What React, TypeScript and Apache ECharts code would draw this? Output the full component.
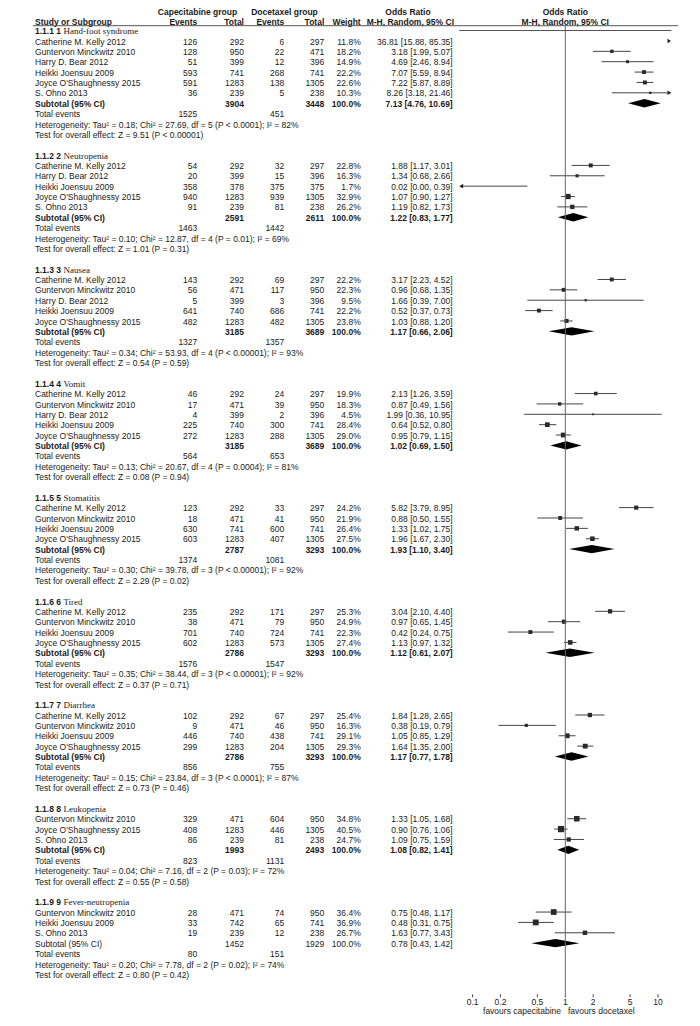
import React, { useEffect, useRef } from "react";
import * as echarts from "echarts";

// ---------- DATA ----------
const groupNames = [
  "Hand-foot syndrome",
  "Neutropenia",
  "Nausea",
  "Vomit",
  "Stomatitis",
  "Tired",
  "Diarrhea",
  "Leukopenia",
  "Fever-neutropenia",
];

const studyNames = [
  ["Catherine M. Kelly 2012", "Guntervon Minckwitz 2010", "Harry D. Bear 2012", "Heikki Joensuu 2009", "Joyce O'Shaughnessy 2015", "S. Ohno 2013"],
  ["Catherine M. Kelly 2012", "Harry D. Bear 2012", "Heikki Joensuu 2009", "Joyce O'Shaughnessy 2015", "S. Ohno 2013"],
  ["Catherine M. Kelly 2012", "Guntervon Minckwitz 2010", "Harry D. Bear 2012", "Heikki Joensuu 2009", "Joyce O'Shaughnessy 2015"],
  ["Catherine M. Kelly 2012", "Guntervon Minckwitz 2010", "Harry D. Bear 2012", "Heikki Joensuu 2009", "Joyce O'Shaughnessy 2015"],
  ["Catherine M. Kelly 2012", "Guntervon Minckwitz 2010", "Heikki Joensuu 2009", "Joyce O'Shaughnessy 2015"],
  ["Catherine M. Kelly 2012", "Guntervon Minckwitz 2010", "Heikki Joensuu 2009", "Joyce O'Shaughnessy 2015"],
  ["Catherine M. Kelly 2012", "Guntervon Minckwitz 2010", "Heikki Joensuu 2009", "Joyce O'Shaughnessy 2015"],
  ["Guntervon Minckwitz 2010", "Joyce O'Shaughnessy 2015", "S. Ohno 2013"],
  ["Guntervon Minckwitz 2010", "Heikki Joensuu 2009", "S. Ohno 2013"],
];

const capEvents = [
  [126, 128, 51, 593, 591, 36],
  [54, 20, 358, 940, 91],
  [143, 56, 5, 641, 482],
  [46, 17, 4, 225, 272],
  [123, 18, 630, 603],
  [235, 38, 701, 602],
  [102, 9, 446, 299],
  [329, 408, 86],
  [28, 33, 19],
];
const capTotals = [
  [292, 950, 399, 741, 1283, 239],
  [292, 399, 378, 1283, 239],
  [292, 471, 399, 740, 1283],
  [292, 471, 399, 740, 1283],
  [292, 471, 741, 1283],
  [292, 471, 740, 1283],
  [292, 471, 740, 1283],
  [471, 1283, 239],
  [471, 742, 239],
];
const docEvents = [
  [6, 22, 12, 268, 138, 5],
  [32, 15, 375, 939, 81],
  [69, 117, 3, 686, 482],
  [24, 39, 2, 300, 288],
  [33, 41, 600, 407],
  [171, 79, 724, 573],
  [67, 46, 438, 204],
  [604, 446, 81],
  [74, 65, 12],
];
const docTotals = [
  [297, 471, 396, 741, 1305, 238],
  [297, 396, 375, 1305, 238],
  [297, 950, 396, 741, 1305],
  [297, 950, 396, 741, 1305],
  [297, 950, 741, 1305],
  [297, 950, 741, 1305],
  [297, 950, 741, 1305],
  [950, 1305, 238],
  [950, 741, 238],
];
const weights = [
  [11.8, 18.2, 14.9, 22.2, 22.6, 10.3],
  [22.8, 16.3, 1.7, 32.9, 26.2],
  [22.2, 22.3, 9.5, 22.2, 23.8],
  [19.9, 18.3, 4.5, 28.4, 29.0],
  [24.2, 21.9, 26.4, 27.5],
  [25.3, 24.9, 22.3, 27.4],
  [25.4, 16.3, 29.1, 29.3],
  [34.8, 40.5, 24.7],
  [36.4, 36.9, 26.7],
];
const oddsRatios = [
  [36.81, 3.18, 4.69, 7.07, 7.22, 8.26],
  [1.88, 1.34, 0.02, 1.07, 1.19],
  [3.17, 0.96, 1.66, 0.52, 1.03],
  [2.13, 0.87, 1.99, 0.64, 0.95],
  [5.82, 0.88, 1.33, 1.96],
  [3.04, 0.97, 0.42, 1.13],
  [1.84, 0.38, 1.05, 1.64],
  [1.33, 0.9, 1.09],
  [0.75, 0.48, 1.63],
];
const ciLower = [
  [15.88, 1.99, 2.46, 5.59, 5.87, 3.18],
  [1.17, 0.68, 0.0, 0.9, 0.82],
  [2.23, 0.68, 0.39, 0.37, 0.88],
  [1.26, 0.49, 0.36, 0.52, 0.79],
  [3.79, 0.5, 1.02, 1.67],
  [2.1, 0.65, 0.24, 0.97],
  [1.28, 0.19, 0.85, 1.35],
  [1.05, 0.76, 0.75],
  [0.48, 0.31, 0.77],
];
const ciUpper = [
  [85.35, 5.07, 8.94, 8.94, 8.89, 21.46],
  [3.01, 2.66, 0.39, 1.27, 1.73],
  [4.52, 1.35, 7.0, 0.73, 1.2],
  [3.59, 1.56, 10.95, 0.8, 1.15],
  [8.95, 1.55, 1.75, 2.3],
  [4.4, 1.45, 0.75, 1.32],
  [2.65, 0.79, 1.29, 2.0],
  [1.68, 1.06, 1.59],
  [1.17, 0.75, 3.43],
];

const subCapTotal = [3904, 2591, 3185, 3185, 2787, 2786, 2786, 1993, 1452];
const subDocTotal = [3448, 2611, 3689, 3689, 3293, 3293, 3293, 2493, 1929];
const subOR = [7.13, 1.22, 1.17, 1.02, 1.93, 1.12, 1.17, 1.08, 0.78];
const subLower = [4.76, 0.83, 0.66, 0.69, 1.1, 0.61, 0.77, 0.82, 0.43];
const subUpper = [10.69, 1.77, 2.06, 1.5, 3.4, 2.07, 1.78, 1.41, 1.42];
const totalEventsCap = [1525, 1463, 1327, 564, 1374, 1576, 856, 823, 80];
const totalEventsDoc = [451, 1442, 1357, 653, 1081, 1547, 755, 1131, 151];
const heterogeneity = [
  "Tau² = 0.18; Chi² = 27.69, df = 5 (P < 0.0001); I² = 82%",
  "Tau² = 0.10; Chi² = 12.87, df = 4 (P = 0.01); I² = 69%",
  "Tau² = 0.34; Chi² = 53.93, df = 4 (P < 0.00001); I² = 93%",
  "Tau² = 0.13; Chi² = 20.67, df = 4 (P = 0.0004); I² = 81%",
  "Tau² = 0.30; Chi² = 39.78, df = 3 (P < 0.00001); I² = 92%",
  "Tau² = 0.35; Chi² = 38.44, df = 3 (P < 0.00001); I² = 92%",
  "Tau² = 0.15; Chi² = 23.84, df = 3 (P < 0.0001); I² = 87%",
  "Tau² = 0.04; Chi² = 7.16, df = 2 (P = 0.03); I² = 72%",
  "Tau² = 0.20; Chi² = 7.78, df = 2 (P = 0.02); I² = 74%",
];
const overallEffect = [
  "Z = 9.51 (P < 0.00001)",
  "Z = 1.01 (P = 0.31)",
  "Z = 0.54 (P = 0.59)",
  "Z = 0.08 (P = 0.94)",
  "Z = 2.29 (P = 0.02)",
  "Z = 0.37 (P = 0.71)",
  "Z = 0.73 (P = 0.46)",
  "Z = 0.55 (P = 0.58)",
  "Z = 0.80 (P = 0.42)",
];
const tickValues = [0.1, 0.2, 0.5, 1, 2, 5, 10];

// ---------- LAYOUT ----------
const ROW0 = 30.6;
const ROWH = 10.37;
const HEADER_LINE_Y = 25.7;
const AXIS_Y = 994.3;
const PLOT_L = 459.6;
const PLOT_R = 671.0;
const LOGMIN = -1.14;
const LOGMAX = 1.14;
const YMIN = -(ROW0 - HEADER_LINE_Y) / ROWH;
const YMAX = YMIN + (AXIS_Y - HEADER_LINE_Y) / ROWH;

const SANS = "'Liberation Sans', Arial, Helvetica, sans-serif";
const SERIF = "'Liberation Serif', 'Times New Roman', serif";
const TXT = "#1a1a1a";
const FS = 8.5;

const X_NAME = 35;
const X_CAPE = 197.3;
const X_CAPT = 244;
const X_DOCE = 284.3;
const X_DOCT = 324.3;
const X_W = 360.7;
const X_OR = 452.7;

const rowY = (i: number) => ROW0 + i * ROWH + 0.6;

function t(x: number, y: number, text: string, align = "left", bold = false, family = SANS, size = FS) {
  return {
    type: "text",
    x,
    y,
    silent: true,
    style: {
      text,
      fill: TXT,
      fontSize: size,
      fontFamily: family,
      fontWeight: bold ? "bold" : "normal",
      align,
      verticalAlign: "middle",
    },
  };
}

const lg = (v: number) => (v > 0 ? Math.log10(v) : -9);
const f2 = (v: number) => v.toFixed(2);

export default function App() {
  const ref = useRef<HTMLDivElement>(null);

  useEffect(() => {
    document.body.style.margin = "0";
    if (!ref.current) return;
    const chart = echarts.init(ref.current, undefined, { renderer: "svg" });

    const graphics: any[] = [];
    const studyData: any[] = [];
    const diamondData: any[] = [];

    // header
    graphics.push(t(197.5, 12.3, "Capecitabine group", "center", true));
    graphics.push(t(284.5, 12.3, "Docetaxel group", "center", true));
    graphics.push(t(408, 12.3, "Odds Ratio", "center", true));
    graphics.push(t(565.3, 12.3, "Odds Ratio", "center", true));
    graphics.push(t(X_NAME, 22, "Study or Subgroup", "left", true));
    graphics.push(t(X_CAPE, 22, "Events", "right", true));
    graphics.push(t(X_CAPT, 22, "Total", "right", true));
    graphics.push(t(X_DOCE, 22, "Events", "right", true));
    graphics.push(t(X_DOCT, 22, "Total", "right", true));
    graphics.push(t(X_W, 22, "Weight", "right", true));
    graphics.push(t(454, 22, "M-H, Random, 95% CI", "right", true));
    graphics.push(t(565.3, 22, "M-H, Random, 95% CI", "center", true));
    graphics.push({
      type: "line",
      silent: true,
      shape: { x1: 33, y1: HEADER_LINE_Y, x2: 678, y2: HEADER_LINE_Y },
      style: { stroke: "#555", lineWidth: 1 },
    });

    let r = 0;
    groupNames.forEach((name, g) => {
      const hy = rowY(r);
      graphics.push(t(X_NAME, hy, `1.1.${g + 1} ${g + 1}`, "left", true));
      graphics.push(t(63.4, hy, name, "left", false, SERIF, 9));
      r += 1;
      studyNames[g].forEach((sn, k) => {
        const y = rowY(r);
        graphics.push(t(X_NAME, y, sn));
        graphics.push(t(X_CAPE, y, String(capEvents[g][k]), "right"));
        graphics.push(t(X_CAPT, y, String(capTotals[g][k]), "right"));
        graphics.push(t(X_DOCE, y, String(docEvents[g][k]), "right"));
        graphics.push(t(X_DOCT, y, String(docTotals[g][k]), "right"));
        graphics.push(t(X_W, y, `${weights[g][k].toFixed(1)}%`, "right"));
        graphics.push(
          t(X_OR, y, `${f2(oddsRatios[g][k])} [${f2(ciLower[g][k])}, ${f2(ciUpper[g][k])}]`, "right")
        );
        studyData.push([lg(oddsRatios[g][k]), r, lg(ciLower[g][k]), lg(ciUpper[g][k]), weights[g][k]]);
        r += 1;
      });
      const bold = g < 8;
      let y = rowY(r);
      graphics.push(t(X_NAME, y, "Subtotal (95% CI)", "left", bold));
      graphics.push(t(X_CAPT, y, String(subCapTotal[g]), "right", bold));
      graphics.push(t(X_DOCT, y, String(subDocTotal[g]), "right", bold));
      graphics.push(t(X_W, y, "100.0%", "right", bold));
      graphics.push(t(X_OR, y, `${f2(subOR[g])} [${f2(subLower[g])}, ${f2(subUpper[g])}]`, "right", bold));
      diamondData.push([lg(subOR[g]), r, lg(subLower[g]), lg(subUpper[g])]);
      r += 1;
      y = rowY(r);
      graphics.push(t(X_NAME, y, "Total events"));
      graphics.push(t(X_CAPE, y, String(totalEventsCap[g]), "right"));
      graphics.push(t(X_DOCE, y, String(totalEventsDoc[g]), "right"));
      r += 1;
      graphics.push(t(X_NAME, rowY(r), `Heterogeneity: ${heterogeneity[g]}`));
      r += 1;
      graphics.push(t(X_NAME, rowY(r), `Test for overall effect: ${overallEffect[g]}`));
      r += 2;
    });

    graphics.push(t(561, 1011, "favours capecitabine", "right"));
    graphics.push(t(568, 1011, "favours docetaxel", "left"));

    const tickLogs = tickValues.map((v) => Math.log10(v));

    const option: any = {
      animation: false,
      grid: {
        left: PLOT_L,
        width: PLOT_R - PLOT_L,
        top: HEADER_LINE_Y,
        height: AXIS_Y - HEADER_LINE_Y,
        containLabel: false,
      },
      xAxis: {
        type: "value",
        min: LOGMIN,
        max: LOGMAX,
        position: "bottom",
        axisLine: { show: true, lineStyle: { color: "#555", width: 1 } },
        axisTick: { show: false },
        axisLabel: {
          show: true,
          customValues: tickLogs,
          margin: 3,
          fontSize: FS,
          fontFamily: SANS,
          color: TXT,
          formatter: (v: number) => String(Math.round(Math.pow(10, v) * 10) / 10),
        },
        splitLine: { show: false },
      },
      yAxis: {
        type: "value",
        inverse: true,
        min: YMIN,
        max: YMAX,
        show: false,
      },
      graphic: graphics,
      series: [
        {
          type: "line",
          silent: true,
          symbol: "none",
          data: [
            [0, YMIN],
            [0, YMAX],
          ],
          lineStyle: { color: "#666", width: 1 },
        },
        {
          type: "custom",
          silent: true,
          data: studyData,
          encode: { x: 0, y: 1 },
          renderItem: (params: any, api: any) => {
            const orv = api.value(0);
            const row = api.value(1);
            const lo = api.value(2);
            const hi = api.value(3);
            const w = api.value(4);
            const y = api.coord([0, row])[1];
            const children: any[] = [];
            const clo = Math.max(lo, LOGMIN);
            const chi = Math.min(hi, LOGMAX);
            if (clo < chi) {
              const x1 = api.coord([clo, row])[0];
              const x2 = api.coord([chi, row])[0];
              children.push({
                type: "line",
                shape: { x1, y1: y, x2, y2: y },
                style: { stroke: "#444", lineWidth: 1 },
              });
            }
            if (hi > LOGMAX) {
              const xr = api.coord([LOGMAX, row])[0];
              children.push({
                type: "polygon",
                shape: { points: [[xr, y], [xr - 3.5, y - 2.3], [xr - 3.5, y + 2.3]] },
                style: { fill: "#222" },
              });
            }
            if (lo < LOGMIN) {
              const xl = api.coord([LOGMIN, row])[0];
              children.push({
                type: "polygon",
                shape: { points: [[xl, y], [xl + 3.5, y - 2.3], [xl + 3.5, y + 2.3]] },
                style: { fill: "#222" },
              });
            }
            if (orv >= LOGMIN && orv <= LOGMAX) {
              const xc = api.coord([orv, row])[0];
              const s = Math.max(1.8, 1 + 0.13 * w);
              children.push({
                type: "rect",
                shape: { x: xc - s / 2, y: y - s / 2, width: s, height: s },
                style: { fill: "#2a2a2a" },
              });
            }
            return { type: "group", children };
          },
        },
        {
          type: "custom",
          silent: true,
          data: diamondData,
          encode: { x: 0, y: 1 },
          renderItem: (params: any, api: any) => {
            const row = api.value(1);
            const pc = api.coord([api.value(0), row]);
            const pl = api.coord([api.value(2), row]);
            const ph = api.coord([api.value(3), row]);
            const hh = 4.2;
            return {
              type: "polygon",
              shape: {
                points: [
                  [pl[0], pc[1]],
                  [pc[0], pc[1] - hh],
                  [ph[0], pc[1]],
                  [pc[0], pc[1] + hh],
                ],
              },
              style: { fill: "#000" },
            };
          },
        },
      ],
    };

    chart.setOption(option);

    // axis tick marks, placed through the chart's own x scale
    const tickGraphics = tickLogs.map((v) => {
      const p = chart.convertToPixel({ gridIndex: 0 }, [v, YMAX]) as number[];
      return {
        type: "line",
        silent: true,
        shape: { x1: p[0], y1: p[1], x2: p[0], y2: p[1] + 3 },
        style: { stroke: "#444", lineWidth: 1 },
      };
    });
    chart.setOption({ graphic: [...graphics, ...tickGraphics] });

    return () => chart.dispose();
  }, []);

  return <div ref={ref} style={{ width: 700, height: 1026 }} />;
}
